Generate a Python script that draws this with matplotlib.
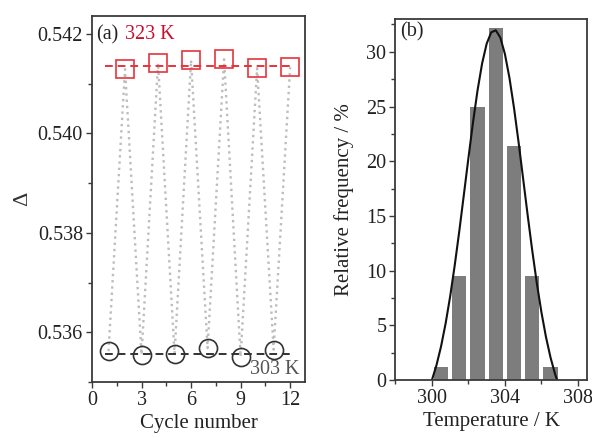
import numpy as np
import matplotlib
matplotlib.use("Agg")
import matplotlib.pyplot as plt
from matplotlib.ticker import MultipleLocator

plt.rcParams['font.family'] = ['Liberation Serif', 'DejaVu Serif']
plt.rcParams['mathtext.fontset'] = 'stix'

# cycling test: odd cycles at 303 K, even cycles at 323 K
cycle = [1, 2, 3, 4, 5, 6, 7, 8, 9, 10, 11, 12]
delta = [0.53562, 0.54129, 0.53555, 0.54141, 0.53557, 0.54147,
         0.53568, 0.54149, 0.53551, 0.54131, 0.53565, 0.54133]
mean_low = 0.53557
mean_high = 0.54136

# temperature distribution
temp_bins = [300.5, 301.5, 302.5, 303.5, 304.5, 305.5, 306.5]
rel_freq = [1.19, 9.52, 25.0, 32.14, 21.43, 9.52, 1.19]

# gaussian fit read at 0.25 K steps
fit_T = [300.0, 300.25, 300.5, 300.75, 301.0, 301.25, 301.5, 301.75,
         302.0, 302.25, 302.5, 302.75, 303.0, 303.25, 303.5, 303.75,
         304.0, 304.25, 304.5, 304.75, 305.0, 305.25, 305.5, 305.75,
         306.0, 306.25, 306.5, 306.75, 306.86]
fit_f = [0.0, 1.36, 3.07, 5.17, 7.65, 10.49, 13.61, 16.93,
         20.28, 23.53, 26.47, 28.93, 30.74, 31.78, 31.97, 31.30,
         29.81, 27.62, 24.87, 21.74, 18.40, 15.05, 11.83, 8.86,
         6.22, 3.95, 2.07, 0.55, 0.0]

RED = '#e5333b'
DARK = '#333333'
SPINE = '#3a3a3a'
TXT = '#222222'
FS = 14.5

fig = plt.figure(figsize=(5.92, 4.38), dpi=100)
ax1 = fig.add_axes([0.1554, 0.1279, 0.3598, 0.8356])
ax2 = fig.add_axes([0.6680, 0.1324, 0.3235, 0.8242])

for ax in (ax1, ax2):
    for sp in ax.spines.values():
        sp.set_color(SPINE)
        sp.set_linewidth(1.3)
    ax.tick_params(which='both', direction='out', colors=SPINE,
                   labelcolor=TXT, labelsize=FS, width=1.0,
                   top=False, right=False, pad=2)
    ax.tick_params(which='major', length=4.5)
    ax.tick_params(which='minor', length=3)

# (a) cycling
x = np.array(cycle)
y = np.array(delta)
ax1.plot(x, y, color='#bdbdbd', lw=1.7, ls=':', zorder=1)
ax1.plot([0.8, 12.2], [mean_high, mean_high], color=RED, lw=1.4,
         dashes=(4, 2.5), zorder=2)
ax1.plot([0.8, 12.0], [mean_low, mean_low], color=DARK, lw=1.4,
         dashes=(4, 2.5), zorder=2)
ax1.plot(x[1::2], y[1::2], 's', ms=12.5, mfc='none', mec=RED, mew=1.2, zorder=3)
ax1.plot(x[0::2], y[0::2], 'o', ms=13, mfc='none', mec=DARK, mew=1.2, zorder=3)

ax1.set_xlim(0, 12.9)
ax1.set_ylim(0.535, 0.54236)
ax1.xaxis.set_major_locator(MultipleLocator(3))
ax1.xaxis.set_minor_locator(MultipleLocator(1.5))
ax1.yaxis.set_major_locator(MultipleLocator(0.002))
ax1.yaxis.set_minor_locator(MultipleLocator(0.001))
ax1.yaxis.set_major_formatter(plt.FormatStrFormatter('%.3f'))
ax1.set_xlabel('Cycle number', fontsize=15, color=TXT, labelpad=3)
ax1.set_ylabel('Δ', fontsize=16, color='#333333', labelpad=4)

ax1.text(0.02, 0.975, '(a)', transform=ax1.transAxes, fontsize=FS,
         color=TXT, ha='left', va='top')
ax1.text(0.155, 0.975, '323 K', transform=ax1.transAxes, fontsize=FS,
         color='#c8102e', ha='left', va='top')
ax1.text(0.975, 0.008, '303 K', transform=ax1.transAxes, fontsize=FS,
         color='#555555', ha='right', va='bottom')

# (b) distribution
ax2.bar(temp_bins, rel_freq, width=0.79, color='#7d7d7d', edgecolor='none',
        zorder=1)
ax2.plot(fit_T, fit_f, color='#111111', lw=1.5, zorder=2)
ax2.set_xlim(298, 308.5)
ax2.set_ylim(0, 33)
ax2.xaxis.set_major_locator(MultipleLocator(4))
ax2.xaxis.set_minor_locator(MultipleLocator(2))
ax2.yaxis.set_major_locator(MultipleLocator(5))
ax2.yaxis.set_minor_locator(MultipleLocator(2.5))
ax2.set_xlabel('Temperature / K', fontsize=15, color=TXT, labelpad=3)
ax2.set_ylabel('Relative frequency / %', fontsize=15, color=TXT,
               labelpad=9)
ax2.text(0.025, 0.99, '(b)', transform=ax2.transAxes, fontsize=FS,
         color=TXT, ha='left', va='top')

fig.savefig('out.png', dpi=100)
